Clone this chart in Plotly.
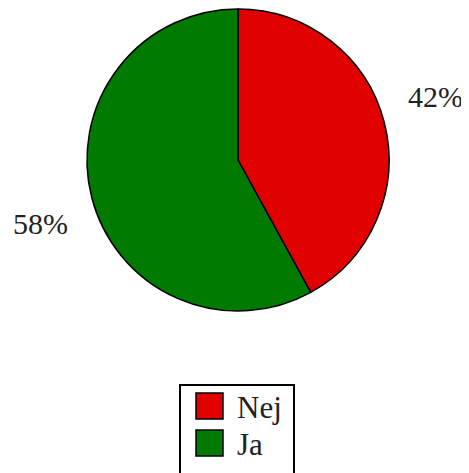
import math
import plotly.graph_objects as go

labels = ["Nej", "Ja"]
values = [42, 58]
colors = ["#E00000", "#007A00"]

WIN_W, WIN_H = 469, 473
OFF = 8  # page body margin
W, H = WIN_W - OFF, WIN_H - OFF
FONT = "Liberation Serif"


def fx(px):
    return (px - OFF) / W


def fy(py):
    return 1 - (py - OFF) / H


# pie geometry (window pixels)
cx, cy, r = 238, 160, 151

fig = go.Figure(go.Pie(
    labels=labels, values=values, sort=False, direction="clockwise", rotation=0,
    marker=dict(colors=colors, line=dict(color="black", width=1.5)),
    textinfo="none", hoverinfo="label+percent", showlegend=False,
    domain=dict(x=[fx(cx - r), fx(cx + r)], y=[fy(cy + r), fy(cy - r)]),
))

annotations = []
shapes = []
total = sum(values)
cum = 0
label_rx, label_ry = 204, 257
for lab, v in zip(labels, values):
    mid = (cum + v / 2) / total
    cum += v
    ang = math.pi / 2 - 2 * math.pi * mid
    px = cx + label_rx * math.cos(ang)
    py = cy - label_ry * math.sin(ang)
    annotations.append(dict(
        x=fx(px), y=fy(py), xref="paper", yref="paper", showarrow=False,
        text=f"{round(100 * v / total)}%", font=dict(family=FONT, size=30, color="#222"),
        xanchor="center", yanchor="middle"))

# legend box
shapes.append(dict(type="rect", xref="paper", yref="paper",
                   x0=fx(180), x1=fx(294), y0=fy(490), y1=fy(385),
                   line=dict(color="black", width=2), fillcolor="white"))
for i, (lab, col) in enumerate(zip(labels, colors)):
    top = 393 + i * 37
    shapes.append(dict(type="rect", xref="paper", yref="paper",
                       x0=fx(196), x1=fx(223), y0=fy(top + 26), y1=fy(top),
                       line=dict(color="black", width=1.5), fillcolor=col))
    annotations.append(dict(x=fx(235), y=fy(top + 14), xref="paper", yref="paper",
                            showarrow=False, text=lab, xanchor="left", yanchor="middle",
                            font=dict(family=FONT, size=31, color="#222")))

fig.update_layout(
    width=W, height=H, margin=dict(l=0, r=0, t=0, b=0),
    paper_bgcolor="white", plot_bgcolor="white",
    annotations=annotations, shapes=shapes, showlegend=False,
)
fig.write_html("out.html")
